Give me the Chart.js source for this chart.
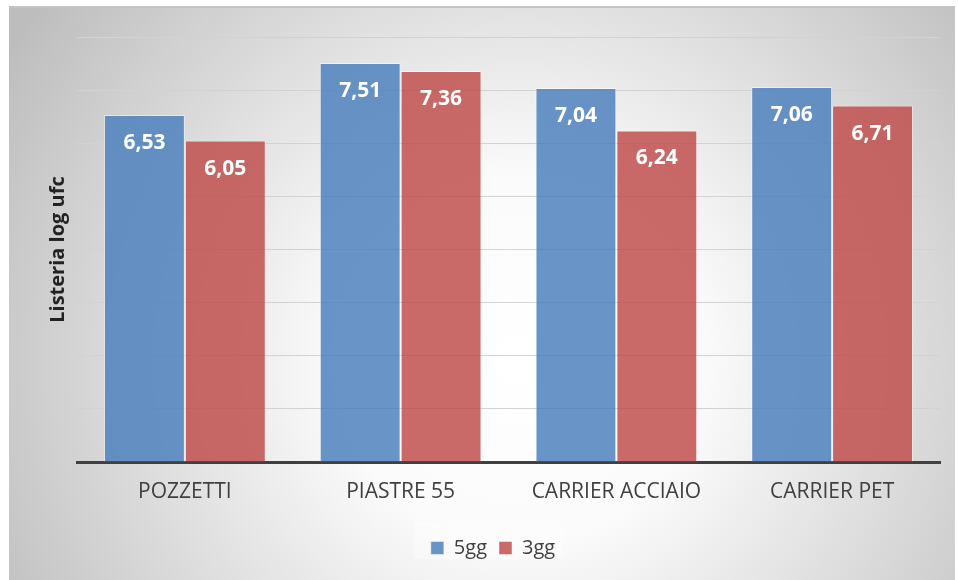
<!DOCTYPE html>
<html>
<head>
<meta charset="utf-8">
<script src="https://cdn.jsdelivr.net/npm/chart.js@4.4.1/dist/chart.umd.min.js"></script>
<style>
  html, body { margin: 0; padding: 0; background: #fff; }
  #wrap { width: 958px; height: 580px; }
</style>
</head>
<body>
<div id="wrap"><canvas id="myChart" width="958" height="580"></canvas></div>
<script>
// dati
const categories = ['POZZETTI', 'PIASTRE 55', 'CARRIER ACCIAIO', 'CARRIER PET'];
const values5gg = [6.53, 7.51, 7.04, 7.06];
const values3gg = [6.05, 7.36, 6.24, 6.71];
const seriesNames = ['5gg', '3gg'];
const yTitle = 'Listeria log ufc';

const FONT = "'Open Sans', sans-serif";

// sfondo grigio sfumato con riquadro
const bgPlugin = {
    id: 'bg',
    beforeDraw(chart) {
        const ctx = chart.ctx;
        const w = chart.width, h = chart.height;
        ctx.save();
        ctx.fillStyle = '#ffffff';
        ctx.fillRect(0, 0, w, h);
        const g = ctx.createRadialGradient(520, 360, 0, 520, 360, 600);
        g.addColorStop(0, '#ffffff');
        g.addColorStop(0.3, '#fbfbfb');
        g.addColorStop(1, '#bdbdbd');
        ctx.fillStyle = g;
        ctx.fillRect(9, 7, 946, h - 7);
        ctx.fillStyle = '#c4c4c4';
        ctx.fillRect(9, 6, 946, 2);
        // riquadro legenda
        const boxes = chart.legend.legendHitBoxes;
        if (boxes && boxes.length) {
            const first = boxes[0], last = boxes[boxes.length - 1];
            ctx.fillStyle = 'rgba(255,255,255,0.35)';
            ctx.fillRect(first.left - 17, first.top - 16, last.left + last.width - first.left + 25, 37);
        }
        ctx.restore();
    }
};

// etichette valori dentro le barre
const labelPlugin = {
    id: 'valueLabels',
    afterDatasetsDraw(chart) {
        const ctx = chart.ctx;
        ctx.save();
        ctx.font = 'bold 21px ' + FONT;
        ctx.fillStyle = '#ffffff';
        ctx.textAlign = 'center';
        ctx.textBaseline = 'middle';
        chart.data.datasets.forEach((ds, i) => {
            chart.getDatasetMeta(i).data.forEach((bar, j) => {
                const txt = ds.data[j].toFixed(2).replace('.', ',');
                ctx.fillText(txt, bar.x, bar.y + 28);
            });
        });
        ctx.restore();
    }
};

new Chart(document.getElementById('myChart'), {
    type: 'bar',
    data: {
        labels: categories,
        datasets: [
            {
                label: seriesNames[0],
                data: values5gg,
                backgroundColor: 'rgba(79,129,189,0.85)',
                borderColor: 'rgba(255,255,255,0.45)',
                borderWidth: 1
            },
            {
                label: seriesNames[1],
                data: values3gg,
                backgroundColor: 'rgba(192,80,77,0.85)',
                borderColor: 'rgba(255,255,255,0.45)',
                borderWidth: 1
            }
        ]
    },
    options: {
        responsive: false,
        animation: false,
        layout: { padding: { left: 46, right: 18, top: 37, bottom: 12 } },
        datasets: { bar: { categoryPercentage: 0.75, barPercentage: 1.0 } },
        plugins: {
            tooltip: { enabled: false },
            legend: {
                position: 'bottom',
                labels: {
                    boxWidth: 13, boxHeight: 13, padding: 12,
                    color: '#404040',
                    font: { family: FONT, size: 20 }
                }
            }
        },
        scales: {
            x: {
                grid: { display: false, drawTicks: false },
                border: { display: true, color: '#404040', width: 3 },
                ticks: { color: '#404040', font: { family: FONT, size: 21 }, padding: 17 },
                afterFit(scale) { scale.height = 64; }
            },
            y: {
                min: 0, max: 8,
                ticks: { display: false, stepSize: 1 },
                grid: { color: '#d2d2d2', lineWidth: 1, drawTicks: false },
                border: { display: false },
                title: {
                    display: true, text: yTitle, color: '#222',
                    font: { family: FONT, size: 20, weight: 'bold' },
                    padding: { top: 0, bottom: 0 }
                },
                afterFit(scale) { scale.width = 31; }
            }
        }
    },
    plugins: [bgPlugin, labelPlugin]
});
</script>
</body>
</html>
